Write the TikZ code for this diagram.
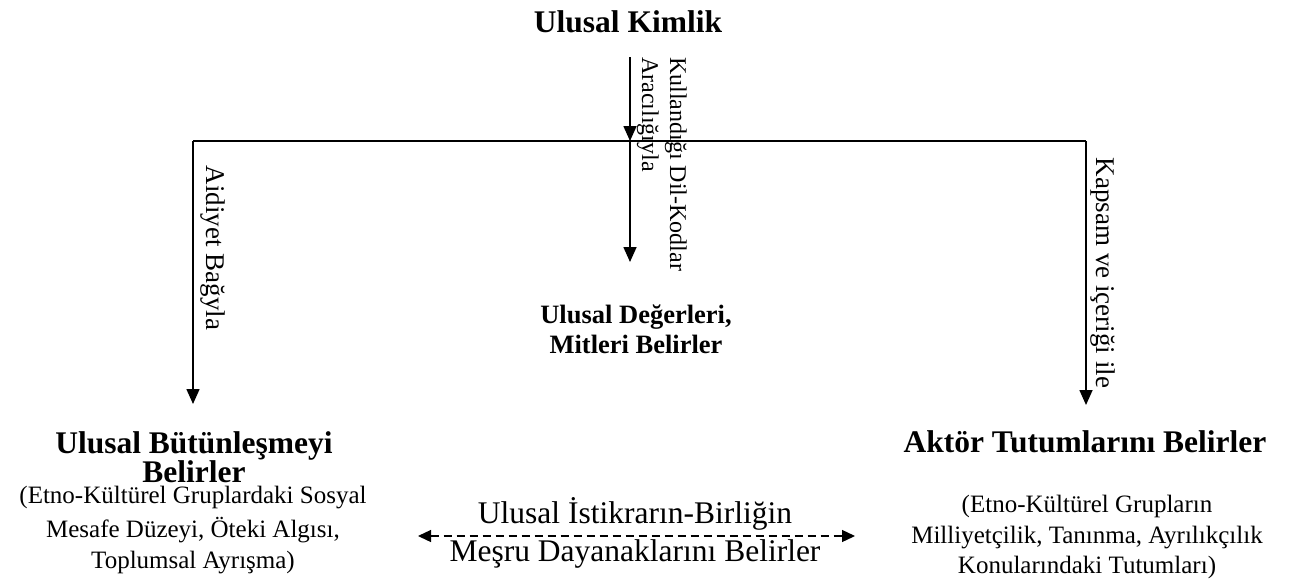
\documentclass[tikz,border=0pt]{standalone}
\usepackage{fontspec}
\setmainfont{Liberation Serif}
\usetikzlibrary{arrows.meta}
\begin{document}
\begin{tikzpicture}[x=1pt,y=-1pt,
  ln/.style={line width=1.6pt},
  arr/.style={ln,-{Triangle[width=13pt,length=15pt]}},
  darr/.style={line width=1.3pt,dash pattern=on 8pt off 5pt,{Triangle[width=12pt,length=13pt]}-{Triangle[width=12pt,length=13pt]}},
  hd/.style={inner sep=0pt,anchor=base,font=\fontsize{31.5}{29}\selectfont\bfseries},
  sub/.style={inner sep=0pt,anchor=base,font=\fontsize{25}{30}\selectfont},
  mid/.style={inner sep=0pt,anchor=base,font=\fontsize{26.5}{30}\selectfont\bfseries},
  big/.style={inner sep=0pt,anchor=base,font=\fontsize{31.5}{36}\selectfont},
  vl/.style={inner sep=0pt,font=\fontsize{24}{28}\selectfont,rotate=-90,align=left},
  vlb/.style={inner sep=0pt,font=\fontsize{27}{30}\selectfont,rotate=-90}]
\useasboundingbox (0,0) rectangle (1290,584);
\fill[white] (0,0) rectangle (1290,584);
% text
\node[hd] (kimlik) at (628,32) {Ulusal Kimlik};
\node[hd] (left1) at (194,453) {Ulusal Bütünleşmeyi};
\node[hd] (left2) at (194,482) {Belirler};
\node[sub] (leftsub1) at (193,503) {(Etno-Kültürel Gruplardaki Sosyal};
\node[sub] (leftsub2) at (193,537) {Mesafe Düzeyi, Öteki Algısı,};
\node[sub] (leftsub3) at (193,568) {Toplumsal Ayrışma)};
\node[hd] (right) at (1085,452) {Aktör Tutumlarını Belirler};
\node[sub] (rightsub1) at (1087,512) {(Etno-Kültürel Grupların};
\node[sub] (rightsub2) at (1087,543) {Milliyetçilik, Tanınma, Ayrılıkçılık};
\node[sub] (rightsub3) at (1087,573) {Konularındaki Tutumları)};
\node[mid] (deger1) at (636,323) {Ulusal Değerleri,};
\node[mid] (deger2) at (636,353) {Mitleri Belirler};
\node[big] (istikrar) at (635,523) {Ulusal İstikrarın-Birliğin};
\node[big] (mesru) at (635,561) {Meşru Dayanaklarını Belirler};
\node[vl,anchor=north west] (kullan) at (687,57) {Kullandığı Dil-Kodlar\\Aracılığıyla};
\node[vlb] (aidiyet) at (213,248) {Aidiyet Bağyla};
\node[vlb] (kapsam) at (1103,273) {Kapsam ve içeriği ile};
% connectors
\coordinate (L) at (193,141);
\coordinate (R) at (1086,141);
\coordinate (Ltip) at (193,404);
\coordinate (Rtip) at (1086,405);
\coordinate (ctop) at (630,57);
\coordinate (cmid) at (630,141);
\coordinate (cbot) at (630,262);
\coordinate (dl) at (418,536);
\coordinate (dr) at (855,536);
\draw[ln] (L) -- (R);
\draw[arr] (L) -- (Ltip);
\draw[arr] (R) -- (Rtip);
\draw[arr] (ctop) -- (cmid);
\draw[arr] (cmid) -- (cbot);
\draw[darr] (dl) -- (dr);
\end{tikzpicture}
\end{document}
